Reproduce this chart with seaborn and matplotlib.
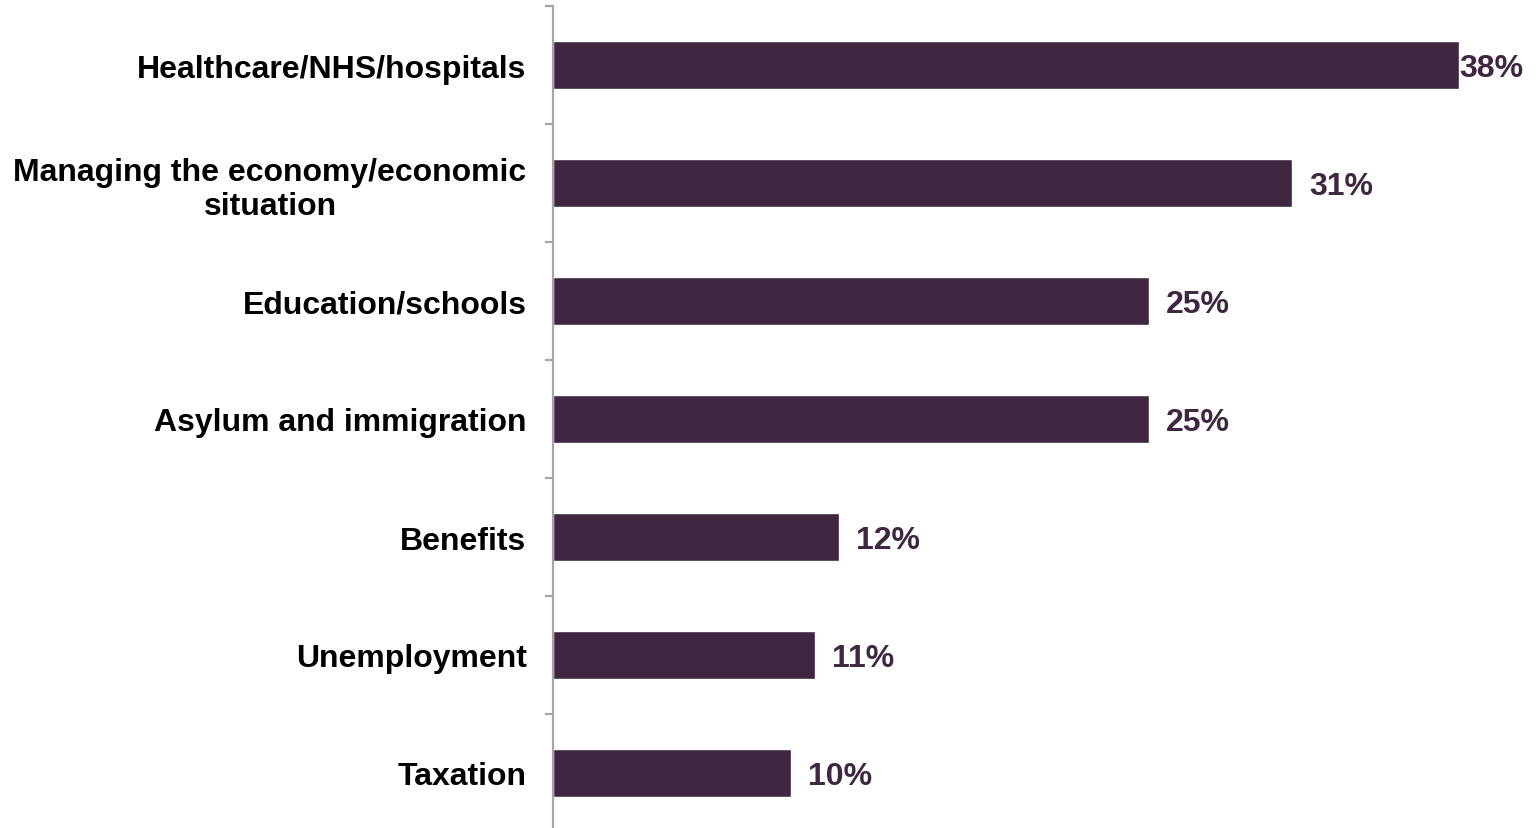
import matplotlib.pyplot as plt
import numpy as np
import seaborn as sns

# Data
categories = [
    "Healthcare/NHS/hospitals",
    "Managing the economy/economic\nsituation",
    "Education/schools",
    "Asylum and immigration",
    "Benefits",
    "Unemployment",
    "Taxation",
]
values = [38, 31, 25, 25, 12, 11, 10]

BAR_COLOR = "#3f2742"
AXIS_GREY = "#a6a6a6"

sns.set_theme(style="white")
plt.rcParams["font.family"] = ["Liberation Sans", "DejaVu Sans"]

fig = plt.figure(figsize=(15.38, 8.29), dpi=100)
# one category = ~118 px; top boundary at y=7 px, bottom boundary just off the figure
ax = fig.add_axes([553 / 1538, -4 / 829, 1 - 553 / 1538, 826 / 829])

sns.barplot(x=values, y=categories, orient="h", color=BAR_COLOR,
            saturation=1, width=0.40, ax=ax)

ax.set_xlim(0, 41.3)
ax.set_ylim(6.5, -0.5)

# spines: only the left one, grey
for side in ["top", "right", "bottom"]:
    ax.spines[side].set_visible(False)
ax.spines["left"].set_color(AXIS_GREY)
ax.spines["left"].set_linewidth(1.6)

ax.set_xticks([])
ax.set_yticks(np.arange(-0.5, 7, 1), minor=True)
ax.tick_params(axis="y", which="minor", length=6, width=1.6, color=AXIS_GREY,
               left=True)
ax.tick_params(axis="y", which="major", length=0, pad=19)
for lab in ax.get_yticklabels():
    lab.set_fontsize(23)
    lab.set_fontweight("bold")
    lab.set_color("black")
    lab.set_multialignment("center")

ax.set_xlabel("")
ax.set_ylabel("")

# value labels
for i, v in enumerate(values):
    pad = 0 if v == max(values) else 12
    ax.annotate(f"{v}%", xy=(v, i), xytext=(pad, -2.5), textcoords="offset points",
                va="center", ha="left", fontsize=23, fontweight="bold",
                color=BAR_COLOR)

fig.savefig("out.png", dpi=100)
